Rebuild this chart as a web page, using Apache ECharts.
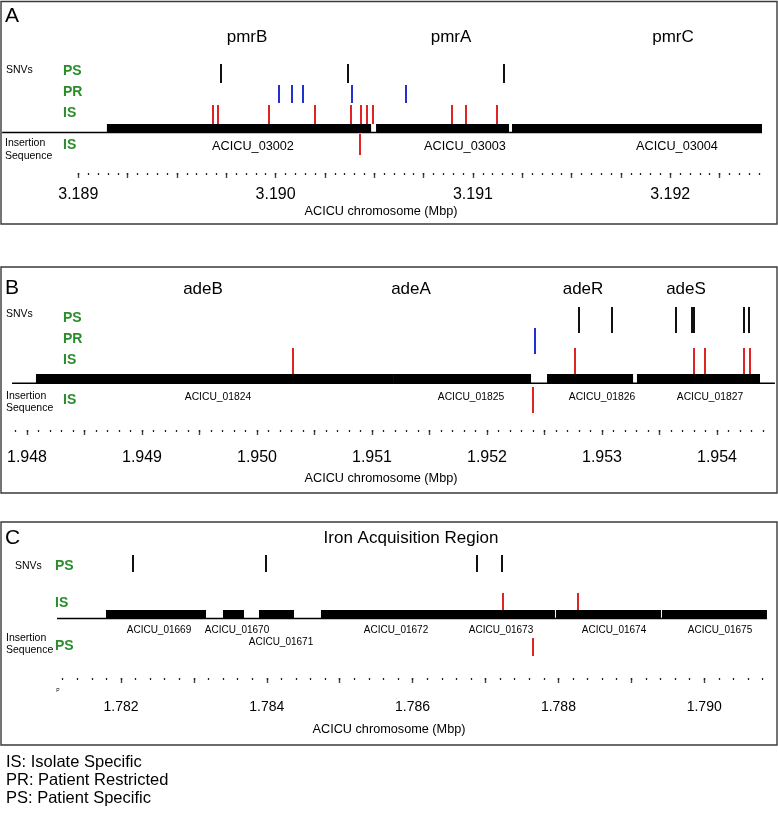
<!DOCTYPE html>
<html><head><meta charset="utf-8">
<script src="https://cdn.jsdelivr.net/npm/echarts@6/dist/echarts.min.js"></script>
<style>html,body{margin:0;padding:0;background:#fff}#c{width:778px;height:819px}</style>
</head><body><div id="c"></div>
<script>
// ---------- Panel A (pmr region, Mbp) ----------
const aGenes = [[3.189145, 3.190484, 'ACICU_03002'], [3.190509, 3.191183, 'ACICU_03003'], [3.191198, 3.192465, 'ACICU_03004']];
const aBaseline = [[3.188614, 3.192465]];
const aPS = [3.189723, 3.190367, 3.191158];
const aPR = [3.190017, 3.190083, 3.190139, 3.190387, 3.190661];
const aIS = [3.189683, 3.189708, 3.189967, 3.190200, 3.190382, 3.190433, 3.190463, 3.190494, 3.190894, 3.190965, 3.191122];
const aInsIS = [3.190428];
const aTickLabels = [3.189, 3.190, 3.191, 3.192];
const aAxis = {min: 3.189, max: 3.1925, major: [3.189, 3.192250, 0.00025], minor: [3.189, 3.19245, 0.00005]};

// ---------- Panel B (ade region, Mbp) ----------
const bGenes = [[1.948078, 1.951183, 'ACICU_01824'], [1.951183, 1.952383, 'ACICU_01825'], [1.952522, 1.953270, 'ACICU_01826'], [1.953304, 1.954374, 'ACICU_01827']];
const bBaseline = [[1.947870, 1.954504]];
const bPS = [1.952800, 1.953087, 1.953643, 1.953783, 1.953800, 1.954235, 1.954278];
const bPR = [1.952417];
const bIS = [1.950313, 1.952765, 1.953800, 1.953896, 1.954235, 1.954287];
const bInsIS = [1.952400];
const bTickLabels = [1.948, 1.949, 1.950, 1.951, 1.952, 1.953, 1.954];
const bAxis = {min: 1.9479, max: 1.9545, major: [1.948, 1.954, 0.0005], minor: [1.9479, 1.9544, 0.0001]};

// ---------- Panel C (iron acquisition region, Mbp) ----------
const cGenes = [[1.781794, 1.783166, 'ACICU_01669'], [1.783399, 1.783687, 'ACICU_01670'], [1.783893, 1.784373, 'ACICU_01671'], [1.784743, 1.786513, 'ACICU_01672'], [1.786513, 1.787953, 'ACICU_01673'], [1.787967, 1.789407, 'ACICU_01674'], [1.789421, 1.790861, 'ACICU_01675']];
const cBaseline = [[1.781122, 1.790861]];
const cPS = [1.782165, 1.783989, 1.786883, 1.787226];
const cIS = [1.787240, 1.788269];
const cInsPS = [1.787652];
const cTickLabels = [1.782, 1.784, 1.786, 1.788, 1.790];
const cAxis = {min: 1.7811, max: 1.7909, major: [1.782, 1.790, 0.001], minor: [1.7812, 1.7908, 0.0002]};

// ---------- layout ----------
const FONT = "'Liberation Sans', Arial, Helvetica, sans-serif";
const GREEN = '#2a8c2a', RED = '#e02424', BLUE = '#2230d0', BLACK = '#111';
const panels = [
  {axis: aAxis, labels: aTickLabels, grid: {left: 78.3, width: 690.6, top: 50, height: 123}, labelSize: 16, margin: 14,
   rows: {ps: [64, 83], pr: [85, 103], is: [105, 124], bar: [124, 132.5], base: 132.5, ins: [134, 155]},
   genes: aGenes, base: aBaseline, ps: aPS, pr: aPR, is: aIS, ins: aInsIS, insColor: RED},
  {axis: bAxis, labels: bTickLabels, grid: {left: 15.5, width: 759, top: 300, height: 130}, labelSize: 16, margin: 20,
   rows: {ps: [307, 333], pr: [328, 354], is: [348, 374], bar: [374, 384], base: 383.3, ins: [387, 413]},
   genes: bGenes, base: bBaseline, ps: bPS, pr: bPR, is: bIS, ins: bInsIS, insColor: RED},
  {axis: cAxis, labels: cTickLabels, grid: {left: 55.4, width: 714.4, top: 560, height: 118}, labelSize: 14, margin: 22,
   rows: {ps: [555, 572], is: [593, 610], bar: [610, 619], base: 618.5, ins: [638, 656]},
   genes: cGenes, base: cBaseline, ps: cPS, pr: [], is: cIS, ins: cInsPS, insColor: RED}
];

function ticks(spec) {
  const out = [];
  const n = Math.round((spec[1] - spec[0]) / spec[2]);
  for (let i = 0; i <= n; i++) out.push(+(spec[0] + i * spec[2]).toFixed(6));
  return out;
}

const grids = [], xAxes = [], yAxes = [], series = [];
panels.forEach((p, i) => {
  grids.push(p.grid);
  xAxes.push({
    type: 'value', gridIndex: i, position: 'bottom', min: p.axis.min, max: p.axis.max,
    axisLine: {show: false, onZero: false}, splitLine: {show: false},
    axisTick: {show: true, length: 5, customValues: ticks(p.axis.major), lineStyle: {color: '#444', width: 1.4}},
    axisLabel: {show: true, customValues: p.labels, margin: p.margin, color: '#000', fontSize: p.labelSize, fontFamily: FONT,
      formatter: v => v.toFixed(3)}
  });
  xAxes.push({
    type: 'value', gridIndex: i, position: 'bottom', min: p.axis.min, max: p.axis.max,
    axisLine: {show: false, onZero: false}, splitLine: {show: false}, axisLabel: {show: false},
    axisTick: {show: true, length: 2, customValues: ticks(p.axis.minor), lineStyle: {color: '#222', width: 1.3}}
  });
  yAxes.push({type: 'value', gridIndex: i, min: 0, max: 1, show: false});
  const xi = i * 2, yi = i;
  // baseline
  series.push({type: 'custom', xAxisIndex: xi, yAxisIndex: yi, z: 1, clip: false, data: p.base,
    renderItem: (params, api) => {
      const x1 = api.coord([api.value(0), 0])[0], x2 = api.coord([api.value(1), 0])[0];
      return {type: 'line', shape: {x1, y1: p.rows.base, x2, y2: p.rows.base}, style: {stroke: '#000', lineWidth: 1.5}};
    }});
  // genes
  series.push({type: 'custom', xAxisIndex: xi, yAxisIndex: yi, z: 2, clip: false, data: p.genes,
    renderItem: (params, api) => {
      const x1 = api.coord([api.value(0), 0])[0], x2 = api.coord([api.value(1), 0])[0];
      return {type: 'rect', shape: {x: x1, y: p.rows.bar[0], width: x2 - x1, height: p.rows.bar[1] - p.rows.bar[0]}, style: {fill: '#000'}};
    }});
  const tick = (data, row, color) => series.push({type: 'custom', xAxisIndex: xi, yAxisIndex: yi, z: 3, clip: false,
    data: data.map(v => [v]),
    renderItem: (params, api) => {
      const x = Math.round(api.coord([api.value(0), 0])[0]);
      return {type: 'line', shape: {x1: x, y1: row[0], x2: x, y2: row[1]}, style: {stroke: color, lineWidth: 2}};
    }});
  tick(p.ps, p.rows.ps, BLACK);
  if (p.rows.pr) tick(p.pr, p.rows.pr, BLUE);
  tick(p.is, p.rows.is, RED);
  tick(p.ins, p.rows.ins, p.insColor);
});

// ---------- texts ----------
function txt(text, x, y, size, opts) {
  opts = opts || {};
  return {type: 'text', z: 10, style: {text, x, y, fill: opts.color || '#000', font: (opts.weight || 'normal') + ' ' + size + 'px ' + FONT,
    textAlign: opts.align || 'center', textVerticalAlign: 'middle'}};
}
function box(y, h) {
  return {type: 'rect', z: 0, shape: {x: 1, y, width: 776, height: h}, style: {fill: 'none', stroke: '#3a3a3a', lineWidth: 1.4}};
}
const T = {align: 'left', color: GREEN, weight: 'bold'};
const L = {align: 'left'};
const graphics = [
  box(1.5, 222.5), box(267, 226), box(522, 223),
  // Panel A
  txt('A', 5, 16, 21, L),
  txt('pmrB', 247, 37, 17), txt('pmrA', 451, 37, 17), txt('pmrC', 673, 37, 17),
  txt('SNVs', 6, 70, 10.5, L),
  txt('PS', 63, 71, 14, T), txt('PR', 63, 92, 14, T), txt('IS', 63, 113, 14, T),
  txt('Insertion', 5, 143, 10.5, L), txt('Sequence', 5, 156, 10.5, L),
  txt('IS', 63, 145, 14, T),
  txt('ACICU_03002', 253, 146, 12.7), txt('ACICU_03003', 465, 146, 12.7), txt('ACICU_03004', 677, 146, 12.7),
  txt('ACICU chromosome (Mbp)', 381, 211, 12.7),
  // Panel B
  txt('B', 5, 288, 21, L),
  txt('adeB', 203, 289, 17), txt('adeA', 411, 289, 17), txt('adeR', 583, 289, 17), txt('adeS', 686, 289, 17),
  txt('SNVs', 6, 314, 10.5, L),
  txt('PS', 63, 318, 14, T), txt('PR', 63, 339, 14, T), txt('IS', 63, 360, 14, T),
  txt('Insertion', 6, 396, 10.5, L), txt('Sequence', 6, 408, 10.5, L),
  txt('IS', 63, 400, 14, T),
  txt('ACICU_01824', 218, 397, 10.3), txt('ACICU_01825', 471, 397, 10.3), txt('ACICU_01826', 602, 397, 10.3), txt('ACICU_01827', 710, 397, 10.3),
  txt('ACICU chromosome (Mbp)', 381, 478, 12.7),
  // Panel C
  txt('C', 5, 538, 21, L),
  txt('Iron Acquisition Region', 411, 538, 17),
  txt('SNVs', 15, 566, 10.5, L),
  txt('PS', 55, 566, 14, T), txt('IS', 55, 603, 14, T),
  txt('Insertion', 6, 638, 10.5, L), txt('Sequence', 6, 650, 10.5, L),
  txt('PS', 55, 646, 14, T),
  txt('ACICU_01669', 159, 630, 10), txt('ACICU_01670', 237, 630, 10), txt('ACICU_01671', 281, 642, 10), txt('ACICU_01672', 396, 630, 10),
  txt('ACICU_01673', 501, 630, 10), txt('ACICU_01674', 614, 630, 10), txt('ACICU_01675', 720, 630, 10),
  txt('P', 58, 691, 5),
  txt('ACICU chromosome (Mbp)', 389, 729, 12.7),
  // Legend
  txt('IS: Isolate Specific', 6, 762, 16.5, L),
  txt('PR: Patient Restricted', 6, 780, 16.5, L),
  txt('PS: Patient Specific', 6, 798, 16.5, L)
];

const chart = echarts.init(document.getElementById('c'), null, {renderer: 'canvas'});
chart.setOption({
  animation: false, backgroundColor: '#fff',
  grid: grids, xAxis: xAxes, yAxis: yAxes, series, graphic: graphics
});
</script></body></html>
